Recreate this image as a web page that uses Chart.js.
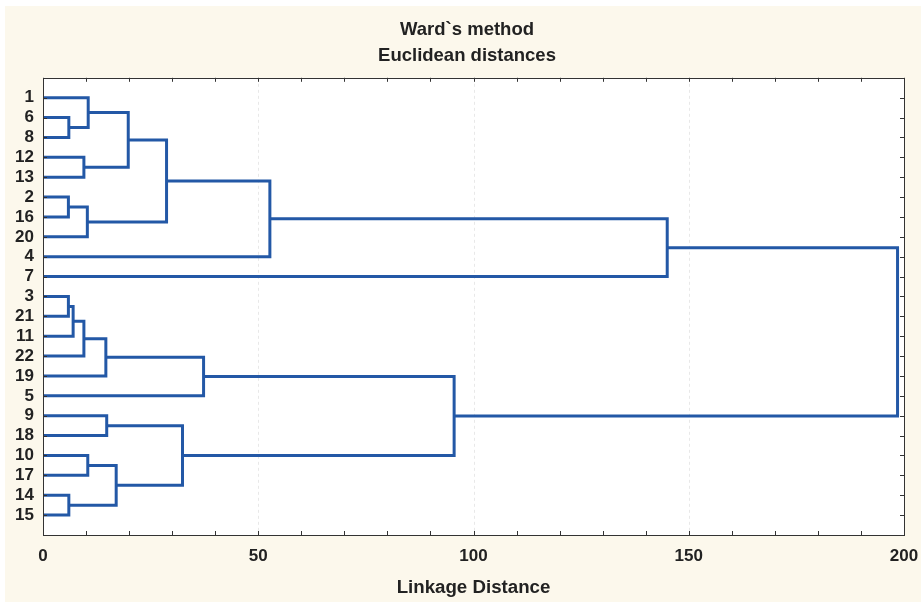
<!DOCTYPE html>
<html>
<head>
<meta charset="utf-8">
<script src="https://cdn.jsdelivr.net/npm/chart.js@4/dist/chart.umd.min.js"></script>
<style>
html, body { margin: 0; padding: 0; background: #fff; }
</style>
</head>
<body>
<canvas id="chart" width="921" height="602"></canvas>
<script>
// leaf order, top to bottom
const leaves = ['1', '6', '8', '12', '13', '2', '16', '20', '4', '7',
                '3', '21', '11', '22', '19', '5', '9', '18', '10', '17', '14', '15'];

// merges: children (leaf label or '#k' = k-th merge) and linkage distance
const mergeLeft   = ['6', '1',  '12', '#1', '2', '#4', '#3', '#6', '#7', '3', '#9', '#10', '#11', '#12', '9',  '10', '14', '#15', '#14', '#13', '#8'];
const mergeRight  = ['8', '#0', '13', '#2', '16', '20', '#5', '4', '7', '21', '11', '22', '19', '5', '18', '17', '15', '#16', '#17', '#18', '#19'];
const mergeHeight = [6.0, 10.5, 9.5, 19.8, 5.9, 10.3, 28.7, 52.7, 145.0, 5.9, 7.0, 9.5, 14.6, 37.3, 14.8, 10.4, 6.0, 17.0, 32.4, 95.5, 198.5];

const xTicks = [0, 50, 100, 150, 200];
const xMinorStep = 10;

const lineColor = '#2358a6';
const textColor = '#222';
const fontFamily = 'Arial, "Liberation Sans", sans-serif';

// positions of leaves / merged nodes in (distance, row) space
const pos = {};
leaves.forEach((l, i) => { pos[l] = { x: 0, y: i + 1 }; });

const datasets = mergeLeft.map((a, k) => {
    const p = pos[a], q = pos[mergeRight[k]], h = mergeHeight[k];
    pos['#' + k] = { x: h, y: (p.y + q.y) / 2 };
    return {
        data: [{ x: p.x, y: p.y }, { x: h, y: p.y }, { x: h, y: q.y }, { x: q.x, y: q.y }],
        borderColor: lineColor,
        borderWidth: 3,
        pointRadius: 0,
        fill: false,
        tension: 0,
        borderJoinStyle: 'miter',
        borderCapStyle: 'butt'
    };
});

// background, plot frame, dashed grid and inward ticks
const frame = {
    id: 'frame',
    afterLayout(chart) {
        // the title sits a bit right of the canvas centre
        chart.titleBlock.left = 30;
    },
    beforeDraw(chart) {
        const { ctx, chartArea: a } = chart;
        const x = chart.scales.x;
        ctx.save();
        ctx.fillStyle = '#fcf8ec';
        ctx.fillRect(5, 6, chart.width - 5, chart.height - 6);
        ctx.fillStyle = '#fff';
        ctx.fillRect(a.left, a.top, a.right - a.left, a.bottom - a.top);
        ctx.strokeStyle = '#e8e8e8';
        ctx.lineWidth = 1;
        ctx.setLineDash([3, 3]);
        xTicks.slice(1, -1).forEach(v => {
            const px = Math.round(x.getPixelForValue(v)) + 0.5;
            ctx.beginPath();
            ctx.moveTo(px, a.top);
            ctx.lineTo(px, a.bottom);
            ctx.stroke();
        });
        ctx.restore();
    },
    afterDatasetsDraw(chart) {
        const { ctx, chartArea: a } = chart;
        const x = chart.scales.x, y = chart.scales.y;
        const t = 4;
        ctx.save();
        ctx.strokeStyle = '#333';
        ctx.lineWidth = 1;
        ctx.beginPath();
        for (let v = x.min; v <= x.max; v += xMinorStep) {
            const px = Math.round(x.getPixelForValue(v)) + 0.5;
            ctx.moveTo(px, a.top); ctx.lineTo(px, a.top + t);
            ctx.moveTo(px, a.bottom); ctx.lineTo(px, a.bottom - t);
        }
        leaves.forEach((l, i) => {
            const py = Math.round(y.getPixelForValue(i + 1)) + 0.5;
            ctx.moveTo(a.left, py); ctx.lineTo(a.left + t, py);
            ctx.moveTo(a.right, py); ctx.lineTo(a.right - t, py);
        });
        ctx.stroke();
        ctx.strokeRect(Math.round(a.left) + 0.5, Math.round(a.top) + 0.5,
                       Math.round(a.right - a.left), Math.round(a.bottom - a.top));
        ctx.restore();
    }
};

new Chart(document.getElementById('chart'), {
    type: 'line',
    data: { datasets },
    plugins: [frame],
    options: {
        responsive: false,
        animation: false,
        layout: { padding: { left: 0, right: 17, top: 0, bottom: 0 } },
        plugins: {
            legend: { display: false },
            tooltip: { enabled: false },
            title: {
                display: true,
                text: ['Ward`s method', 'Euclidean distances'],
                color: textColor,
                font: { family: fontFamily, size: 18.5, weight: 'bold', lineHeight: 1.4 },
                padding: { top: 17, bottom: 9 }
            }
        },
        scales: {
            x: {
                type: 'linear',
                min: 0,
                max: 200,
                afterBuildTicks: s => { s.ticks = xTicks.map(v => ({ value: v })); },
                ticks: {
                    color: textColor,
                    padding: 11,
                    autoSkip: false,
                    maxRotation: 0,
                    font: { family: fontFamily, size: 17, weight: 'bold' }
                },
                grid: { display: false, drawTicks: false },
                border: { display: false },
                title: {
                    display: true,
                    text: 'Linkage Distance',
                    color: textColor,
                    font: { family: fontFamily, size: 18.7, weight: 'bold' },
                    padding: { top: 0, bottom: 3 }
                },
                afterFit: s => { s.height = 67; s.paddingLeft = 0; s.paddingRight = 0; }
            },
            y: {
                type: 'linear',
                reverse: true,
                min: 0,
                max: leaves.length + 1,
                ticks: {
                    stepSize: 1,
                    autoSkip: false,
                    color: textColor,
                    padding: 9,
                    font: { family: fontFamily, size: 17, weight: 'bold' },
                    callback: v => leaves[v - 1] || ''
                },
                grid: { display: false, drawTicks: false },
                border: { display: false },
                afterFit: s => { s.width = 43; }
            }
        }
    }
});
</script>
</body>
</html>
